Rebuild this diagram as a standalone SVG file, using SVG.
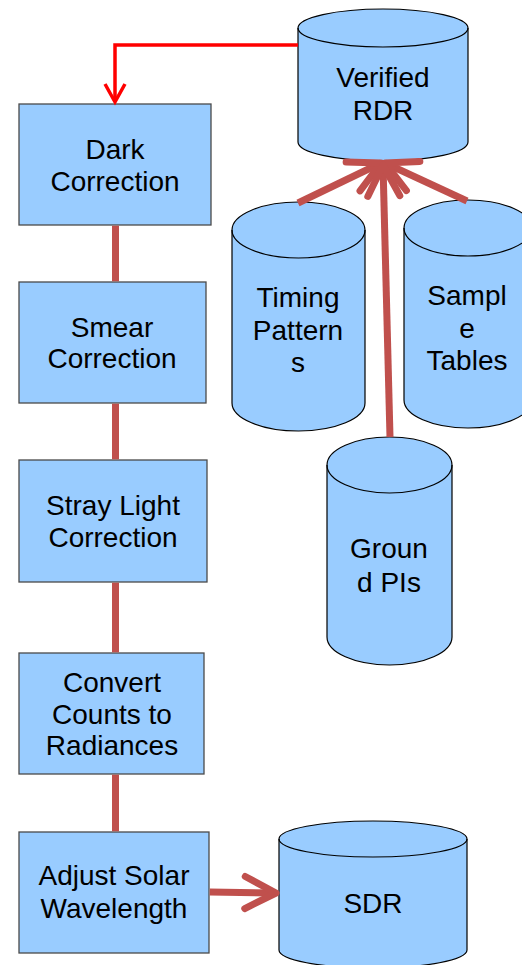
<svg xmlns="http://www.w3.org/2000/svg" width="522" height="965" viewBox="0 0 522 965">
<style>
.box{fill:#99ccff;stroke:#4a4a4a;stroke-width:1.3}
.cyl{fill:#99ccff;stroke:#000;stroke-width:1.2}
.rim{fill:none;stroke:#000;stroke-width:1.2}
.lbl{font-family:"Liberation Sans",Arial,sans-serif;font-size:28px;fill:#000;text-anchor:middle}
.flow{fill:none;stroke:#c0504d;stroke-width:7;stroke-linecap:butt}
.arr{fill:none;stroke:#c0504d;stroke-width:7;stroke-linecap:butt}
.red{fill:none;stroke:#ff0000;stroke-width:3.5}
</style>
<defs>
<marker id="ah" markerUnits="userSpaceOnUse" markerWidth="50" markerHeight="50" viewBox="-40 -25 50 50" refX="0" refY="0" orient="auto" overflow="visible">
<path d="M-31,-16 L0,0 L-31,16" fill="none" stroke="#c0504d" stroke-width="7" stroke-linecap="round" stroke-linejoin="round"/>
</marker>
<marker id="ahr" markerUnits="userSpaceOnUse" markerWidth="30" markerHeight="30" viewBox="-25 -15 30 30" refX="0" refY="0" orient="auto" overflow="visible">
<path d="M-18,-10 L0,0 L-18,10" fill="none" stroke="#ff0000" stroke-width="3.5"/>
</marker>
</defs>

<g id="verified-rdr">
<path class="cyl" d="M298,28 A85,19 0 0 1 468,28 L468,142 A85,19 0 0 1 298,142 Z"/>
<path class="rim" d="M298,28 A85,19 0 0 0 468,28"/>
<text class="lbl" x="383" y="87">Verified</text>
<text class="lbl" x="383" y="120">RDR</text>
</g>

<g id="timing-patterns">
<path class="cyl" d="M232,230 A66.5,28 0 0 1 365,230 L365,403 A66.5,28 0 0 1 232,403 Z"/>
<path class="rim" d="M232,230 A66.5,28 0 0 0 365,230"/>
<text class="lbl" x="298" y="307">Timing</text>
<text class="lbl" x="298" y="340">Pattern</text>
<text class="lbl" x="298" y="372">s</text>
</g>

<g id="sample-tables">
<path class="cyl" d="M404,228 A64,28 0 0 1 532,228 L532,400 A64,28 0 0 1 404,400 Z"/>
<path class="rim" d="M404,228 A64,28 0 0 0 532,228"/>
<text class="lbl" x="467" y="305">Sampl</text>
<text class="lbl" x="467" y="338">e</text>
<text class="lbl" x="467" y="370">Tables</text>
</g>

<g id="ground-pis">
<path class="cyl" d="M327,465 A62.5,28 0 0 1 452,465 L452,637 A62.5,28 0 0 1 327,637 Z"/>
<path class="rim" d="M327,465 A62.5,28 0 0 0 452,465"/>
<text class="lbl" x="389" y="558">Groun</text>
<text class="lbl" x="389" y="592">d PIs</text>
</g>

<g id="sdr">
<path class="cyl" d="M279,839 A94,18 0 0 1 467,839 L467,950 A94,18 0 0 1 279,950 Z"/>
<path class="rim" d="M279,839 A94,18 0 0 0 467,839"/>
<text class="lbl" x="373" y="913">SDR</text>
</g>

<g id="dark-correction">
<rect class="box" x="19" y="104" width="192" height="121"/>
<text class="lbl" x="115" y="159">Dark</text>
<text class="lbl" x="115" y="191">Correction</text>
</g>

<g id="smear-correction">
<rect class="box" x="19" y="282" width="187" height="121"/>
<text class="lbl" x="112" y="337">Smear</text>
<text class="lbl" x="112" y="368">Correction</text>
</g>

<g id="stray-light-correction">
<rect class="box" x="19" y="460" width="188" height="122"/>
<text class="lbl" x="113" y="515">Stray Light</text>
<text class="lbl" x="113" y="547">Correction</text>
</g>

<g id="convert-counts">
<rect class="box" x="19" y="653" width="185" height="121"/>
<text class="lbl" x="112" y="692">Convert</text>
<text class="lbl" x="112" y="724">Counts to</text>
<text class="lbl" x="112" y="755">Radiances</text>
</g>

<g id="adjust-solar">
<rect class="box" x="19" y="832" width="190" height="121"/>
<text class="lbl" x="114" y="885">Adjust Solar</text>
<text class="lbl" x="114" y="918">Wavelength</text>
</g>

<g id="connectors">
<line class="flow" x1="115.5" y1="225.7" x2="115.5" y2="281.3"/>
<line class="flow" x1="115.5" y1="403.7" x2="115.5" y2="459.3"/>
<line class="flow" x1="115.5" y1="582.7" x2="115.5" y2="652.3"/>
<line class="flow" x1="115.5" y1="774.7" x2="115.5" y2="831.3"/>
<line class="arr" x1="209.7" y1="892" x2="276" y2="893" marker-end="url(#ah)"/>
<line class="arr" x1="298" y1="203" x2="381" y2="163" marker-end="url(#ah)"/>
<line class="arr" x1="467" y1="201" x2="385" y2="163" marker-end="url(#ah)"/>
<line class="arr" x1="390" y1="437" x2="383" y2="165" marker-end="url(#ah)"/>
<polyline class="red" points="298,45 115,45 115,102" marker-end="url(#ahr)"/>
</g>
</svg>
